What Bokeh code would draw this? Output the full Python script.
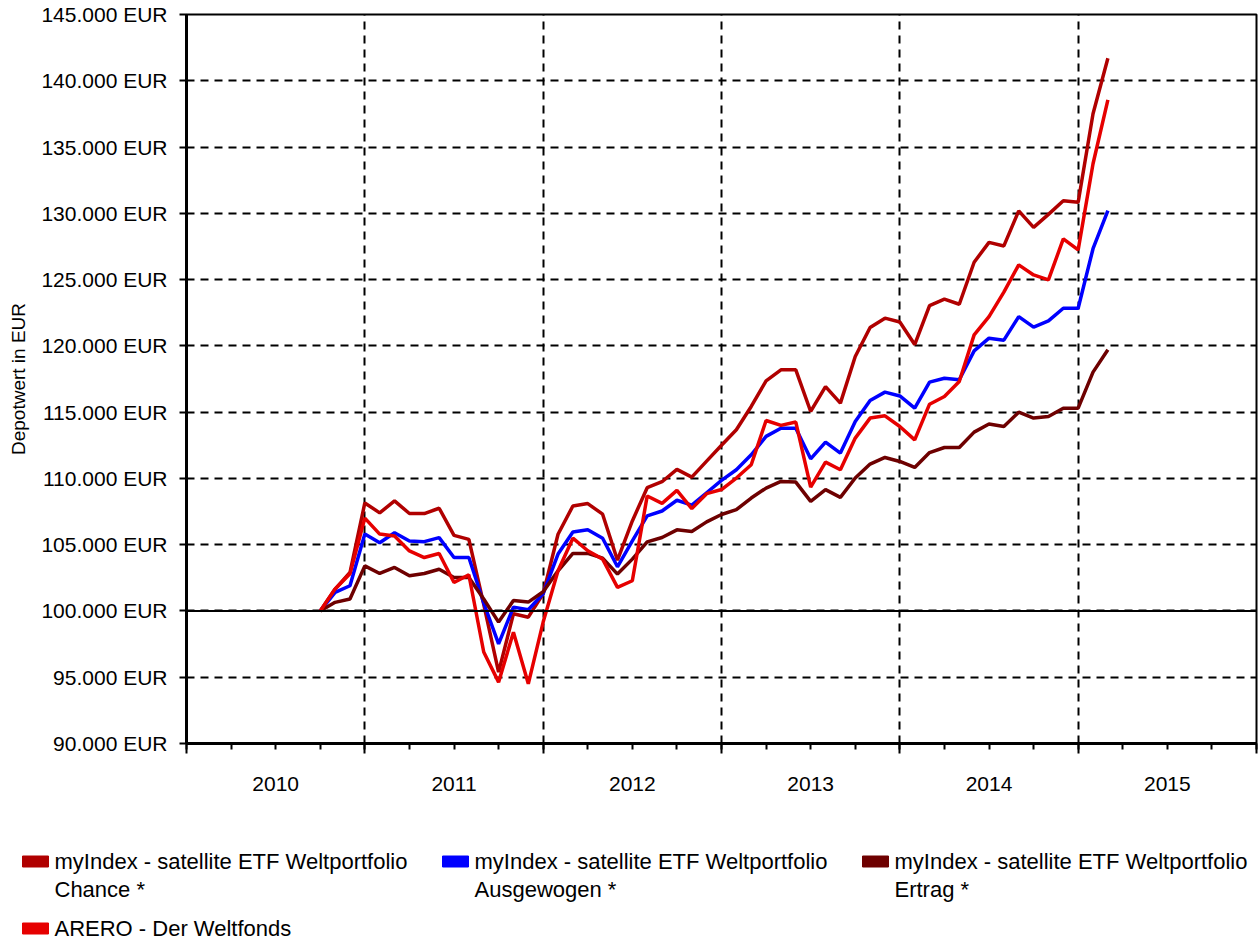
from bokeh.plotting import figure
from bokeh.models import FixedTicker, LinearAxis, Span, Range1d
from bokeh.layouts import column
from bokeh.embed import file_html
from bokeh.resources import INLINE
from bokeh.core.properties import value
import pandas as pd

# ---------------- data ----------------
months = pd.date_range("2010-10-01", "2015-03-01", freq="MS")
x_years = [d.year + (d.month - 1) / 12 for d in months]

chance = [100000, 101650, 102900, 108150, 107400, 108300, 107350, 107350, 107750, 105700,
          105400, 100500, 95380, 99790, 99530, 101300, 105790, 107920, 108100, 107300,
          103830, 106790, 109300, 109750, 110680, 110100, 111300, 112500, 113670, 115430,
          117360, 118190, 118190, 115050, 116930, 115680, 119200, 121380, 122090, 121800,
          120100, 123040, 123520, 123140, 126310, 127810, 127540, 130180, 128940, 129920,
          130950, 130830, 137510, 141700]

ausgewogen = [100000, 101400, 101900, 105800, 105150, 105900, 105280, 105230, 105530, 104030,
              104030, 100600, 97520, 100290, 100090, 101300, 104290, 105960, 106120, 105490,
              103330, 105290, 107170, 107540, 108350, 107990, 108920, 109850, 110650, 111780,
              113170, 113790, 113790, 111480, 112740, 111910, 114300, 115880, 116510, 116220,
              115300, 117260, 117560, 117440, 119620, 120580, 120430, 122210, 121410, 121880,
              122840, 122840, 127330, 130210]

ertrag = [100000, 100650, 100900, 103400, 102830, 103280, 102650, 102830, 103150, 102530,
          102530, 100900, 99160, 100790, 100670, 101450, 103030, 104340, 104340, 103990,
          102780, 103910, 105210, 105540, 106120, 105990, 106720, 107280, 107640, 108520,
          109270, 109770, 109720, 108270, 109150, 108570, 110030, 111080, 111580, 111280,
          110830, 111950, 112330, 112330, 113490, 114100, 113920, 115000, 114550, 114670,
          115300, 115300, 118020, 119700]

arero = [100000, 101650, 102800, 107000, 105800, 105650, 104530, 104030, 104330, 102150,
         102730, 96900, 94630, 98400, 94500, 99160, 103030, 105490, 104540, 103910,
         101780, 102280, 108670, 108120, 109100, 107720, 108850, 109160, 110030, 111030,
         114370, 114000, 114250, 109350, 111230, 110650, 113040, 114550, 114720, 113920,
         112910, 115600, 116180, 117310, 120830, 122210, 124050, 126110, 125350, 124980,
         128070, 127240, 133740, 138560]

series = [chance, ausgewogen, ertrag, arero]
legend_line1 = ["myIndex - satellite ETF Weltportfolio",
                "myIndex - satellite ETF Weltportfolio",
                "myIndex - satellite ETF Weltportfolio",
                "ARERO - Der Weltfonds"]
legend_line2 = ["Chance *", "Ausgewogen *", "Ertrag *"]
colors = ["#B00000", "#0000FF", "#6E0000", "#E60000"]

year_ticks = [2010, 2011, 2012, 2013, 2014, 2015, 2016]
year_labels = ["2010", "2011", "2012", "2013", "2014", "2015"]
y_ticks = [90000, 95000, 100000, 105000, 110000, 115000, 120000, 125000, 130000,
           135000, 140000, 145000]

FONT = "Liberation Sans"
W = 1260
MAIN_H = 840
LEG_H = 100

# ---------------- main figure ----------------
p = figure(width=W, height=MAIN_H, x_range=Range1d(2010, 2016), y_range=Range1d(90000, 145000),
           output_backend="svg", toolbar_location=None,
           min_border_left=186, min_border_right=4, min_border_top=14, min_border_bottom=97)
p.frame_align = False
p.background_fill_color = "white"
p.border_fill_color = "white"
p.outline_line_color = "black"
p.outline_line_width = 2

quarters = [y + q / 4 for y in year_ticks[:-1] for q in range(4)] + [year_ticks[-1]]

# x axis with ticks (labels blank)
xa = p.xaxis[0]
xa.ticker = FixedTicker(ticks=year_ticks, minor_ticks=quarters)
xa.major_label_overrides = {t: "" for t in year_ticks}
xa.major_label_standoff = 0
xa.major_tick_out = 10
xa.major_tick_in = 0
xa.minor_tick_out = 6
xa.minor_tick_in = 0
xa.major_tick_line_width = 2
xa.minor_tick_line_width = 2
xa.axis_line_width = 3
xa.axis_line_color = "black"
xa.major_tick_line_color = "black"
xa.minor_tick_line_color = "black"

# second x axis carrying the year labels centred in each year
mid_ticks = [y + 0.5 for y in year_ticks[:-1]]
ax2 = LinearAxis(ticker=FixedTicker(ticks=mid_ticks),
                 major_label_overrides={t: lab for t, lab in zip(mid_ticks, year_labels)},
                 axis_line_color=None, major_tick_line_color=None, minor_tick_line_color=None,
                 major_tick_out=0, major_tick_in=0, minor_tick_out=0, minor_tick_in=0,
                 major_label_standoff=23,
                 major_label_text_font=FONT, major_label_text_font_size="21px",
                 major_label_text_color="black")
p.add_layout(ax2, "below")

# y axis
ya = p.yaxis[0]
ya.ticker = FixedTicker(ticks=y_ticks)
ya.major_label_overrides = {t: f"{t:,}".replace(",", ".") + " EUR" for t in y_ticks}
ya.major_label_text_font = FONT
ya.major_label_text_font_size = "21px"
ya.major_label_text_color = "black"
ya.major_tick_out = 7
ya.major_tick_in = 0
ya.major_tick_line_width = 2
ya.minor_tick_line_color = None
ya.major_label_standoff = 12
ya.axis_line_width = 3
ya.axis_label = "Depotwert in EUR"
ya.axis_label_text_font = FONT
ya.axis_label_text_font_size = "19px"
ya.axis_label_text_font_style = "normal"
ya.axis_label_text_color = "black"
ya.axis_label_standoff = 9

# grids
p.xgrid.ticker = FixedTicker(ticks=year_ticks)
p.ygrid.ticker = FixedTicker(ticks=y_ticks)
for g in (p.xgrid[0], p.ygrid[0]):
    g.grid_line_color = "black"
    g.grid_line_dash = "8 6"
    g.grid_line_width = 2

p.add_layout(Span(location=100000, dimension="width", line_color="black", line_width=2))

for vals, col in zip(series, colors):
    p.line(x_years, vals, line_color=col, line_width=3.5)

# ---------------- legend figure ----------------
leg = figure(width=W, height=LEG_H, x_range=Range1d(0, W), y_range=Range1d(LEG_H, 0),
             output_backend="svg", toolbar_location=None, min_border=0,
             x_axis_type=None, y_axis_type=None)
leg.frame_align = False
leg.outline_line_color = None
leg.grid.visible = False

col_x = [22, 442, 862, 22]
row_y = [21, 21, 21, 88]
leg.rect(x=[cx + 13 for cx in col_x], y=row_y, width=26, height=11, color=colors)
leg.text(x=[cx + 32 for cx in col_x], y=row_y, text=legend_line1,
         text_baseline="middle", text_font=value(FONT), text_font_size="22px",
         text_color="black")
leg.text(x=[cx + 32 for cx in col_x[:3]], y=[ry + 28 for ry in row_y[:3]], text=legend_line2,
         text_baseline="middle", text_font=value(FONT), text_font_size="22px",
         text_color="black")

layout = column(p, leg, spacing=0)
open("out.html", "w").write(file_html(layout, INLINE))
